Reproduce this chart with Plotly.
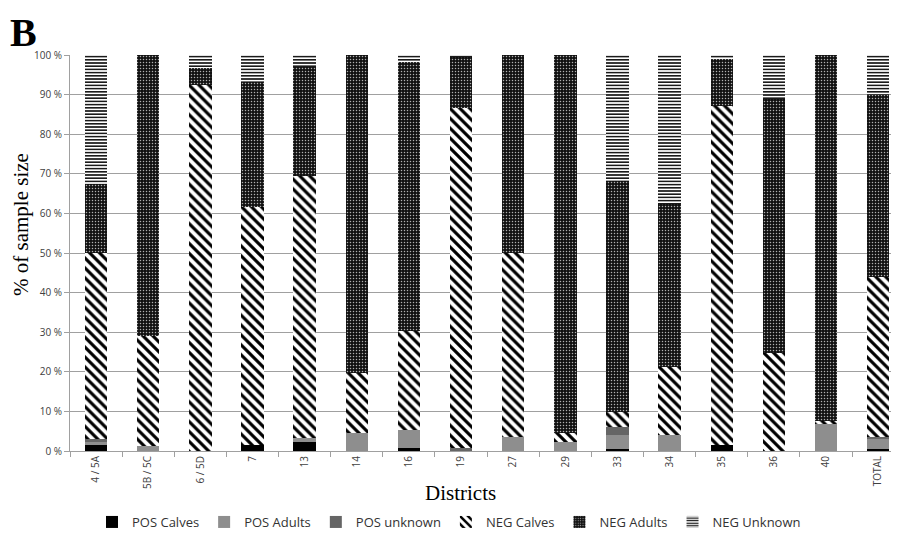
import plotly.graph_objects as go

districts = ["4 / 5A", "5B / 5C", "6 / 5D", "7", "13", "14", "16", "19", "27", "29",
             "33", "34", "35", "36", "40", "TOTAL"]

pos_calves  = [1.5, 0.0, 0.0, 1.5, 2.3, 0.0, 0.7, 0.0, 0.0, 0.0, 0.5, 0.0, 1.5, 0.0, 0.0, 0.5]
pos_adults  = [1.0, 1.3, 0.0, 0.0, 1.1, 4.6, 4.6, 0.0, 3.6, 2.3, 3.5, 4.0, 0.0, 0.0, 6.7, 2.7]
pos_unknown = [0.5, 0.0, 0.0, 0.0, 0.0, 0.0, 0.0, 0.8, 0.0, 0.0, 2.0, 0.0, 0.0, 0.0, 0.0, 0.3]
neg_calves  = [47.0, 27.7, 92.4, 60.0, 66.1, 15.2, 25.0, 85.9, 46.4, 2.3, 3.8, 17.3, 85.5, 24.8, 1.0, 40.5]
neg_adults  = [17.3, 71.0, 4.2, 31.8, 27.5, 80.2, 68.0, 13.0, 50.0, 95.4, 58.5, 41.2, 12.0, 64.2, 92.3, 46.0]
neg_unknown = [32.7, 0.0, 3.4, 6.7, 3.0, 0.0, 1.7, 0.3, 0.0, 0.0, 31.7, 37.5, 1.0, 11.0, 0.0, 10.0]

y_ticks = [0, 10, 20, 30, 40, 50, 60, 70, 80, 90, 100]
y_tick_labels = [f"{v} %" for v in y_ticks]

series = [
    ("POS Calves", pos_calves, dict(color="#000000")),
    ("POS Adults", pos_adults, dict(color="#8e8e8e")),
    ("POS unknown", pos_unknown, dict(color="#656565")),
    ("NEG Calves", neg_calves, dict(color="white",
        pattern=dict(shape="\\", fgcolor="#000000", bgcolor="white", size=7, solidity=0.45, fillmode="replace"))),
    ("NEG Adults", neg_adults, dict(color="#111111",
        pattern=dict(shape=".", fgcolor="#b0b0b0", bgcolor="#111111", size=3, solidity=0.2, fillmode="replace"))),
    ("NEG Unknown", neg_unknown, dict(color="white",
        pattern=dict(shape="-", fgcolor="#000000", bgcolor="white", size=3.2, solidity=0.45, fillmode="replace"))),
]

fig = go.Figure()
for name, vals, marker in series:
    fig.add_trace(go.Bar(
        name=name, x=districts, y=vals,
        marker=dict(line=dict(width=0), **marker),
    ))

# the page is drawn with an 8px body margin; margins compensate for it
fig.update_layout(
    barmode="stack",
    bargap=0.57,
    width=899, height=545,
    margin=dict(l=62, r=8, t=47, b=102, autoexpand=False),
    plot_bgcolor="white", paper_bgcolor="white",
    font=dict(family="Open Sans", color="#404040"),
    showlegend=True,
    legend=dict(orientation="h", xref="container", yref="container",
                x=441 / 899, xanchor="center", y=1 - 514 / 545, yanchor="middle",
                traceorder="normal",
                font=dict(family="Open Sans", size=13, color="#333333"),
                itemwidth=30, tracegroupgap=0),
    annotations=[
        dict(text="<b>B</b>", xref="paper", yref="paper",
             x=(8 - 70) / 829, y=1 + 47 / 396,
             xanchor="left", yanchor="top", showarrow=False,
             font=dict(family="Liberation Serif", size=40, color="#000000")),
        dict(text="% of sample size", xref="paper", yref="paper",
             x=(21 - 70) / 829, y=(451 - 225) / 396, textangle=-90,
             xanchor="center", yanchor="middle", showarrow=False,
             font=dict(family="Liberation Serif", size=21, color="#000000")),
        dict(text="Districts", xref="paper", yref="paper",
             x=(460 - 70) / 829, y=(451 - 493) / 396,
             xanchor="center", yanchor="middle", showarrow=False,
             font=dict(family="Liberation Serif", size=21, color="#000000")),
    ],
)

fig.update_xaxes(
    type="category", range=[-0.5, 15.4],
    tickangle=-90, tickfont=dict(family="Open Sans", size=10, color="#404040"),
    ticks="outside", tickson="boundaries", ticklen=5, tickcolor="#a0a0a0",
    showline=True, linecolor="#a0a0a0", linewidth=1, showgrid=False,
)
fig.update_yaxes(
    range=[0, 100], tickvals=y_ticks, ticktext=y_tick_labels,
    tickfont=dict(family="Open Sans", size=10, color="#404040"),
    ticks="outside", ticklen=5, tickcolor="#a0a0a0",
    showline=True, linecolor="#a0a0a0", linewidth=1,
    showgrid=True, gridcolor="#a0a0a0", gridwidth=1, zeroline=False,
)

fig.write_html("out.html")
